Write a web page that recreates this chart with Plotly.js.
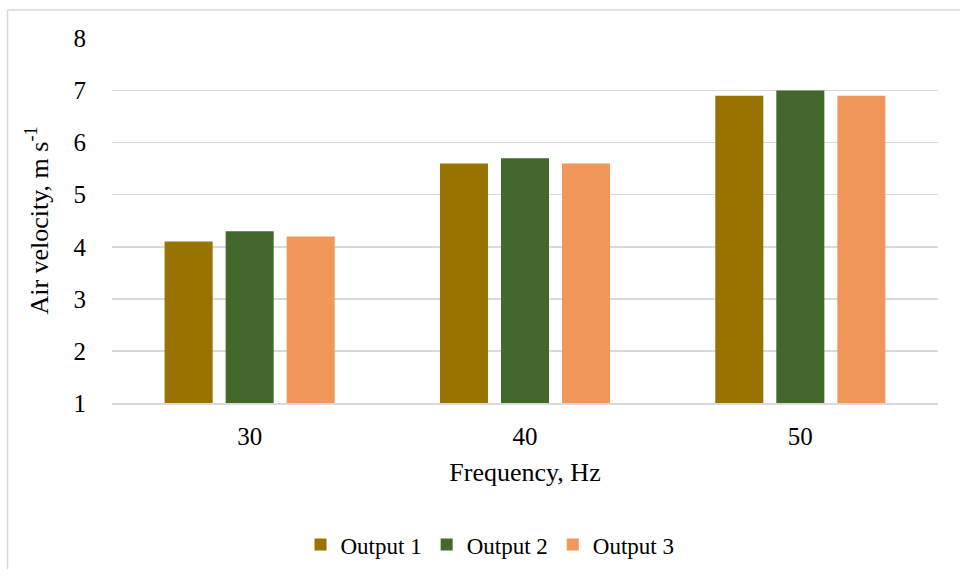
<!DOCTYPE html>
<html>
<head>
<meta charset="utf-8">
<script src="https://cdn.plot.ly/plotly-3.0.1.min.js"></script>
<style>
  html, body { margin: 0; padding: 0; background: #fff; }
  #chart { width: 960px; height: 578px; }
</style>
</head>
<body>
<div id="chart"></div>
<script>
const categories = ["30", "40", "50"];
const output1 = [4.1, 5.6, 6.9];
const output2 = [4.3, 5.7, 7.0];
const output3 = [4.2, 5.6, 6.9];
const seriesNames = ["Output 1", "Output 2", "Output 3"];
const seriesColors = ["#997300", "#43682B", "#F1975A"];
const yTicks = [1, 2, 3, 4, 5, 6, 7, 8];

const FONT = 'Liberation Serif';
const allSeries = [output1, output2, output3];

const traces = allSeries.map((vals, i) => ({
  type: 'bar',
  name: seriesNames[i],
  x: categories,
  y: vals,
  marker: { color: seriesColors[i], line: { width: 0 } },
  hoverinfo: 'x+y+name'
}));

const W = 960, H = 578;
const L = 112, R = 22, T = 38, B = 169;
const pw = W - L - R, ph = H - T - B;
const px = v => (v - L) / pw;
const py = v => (H - B - v) / ph;

const layout = {
  width: W, height: H,
  margin: { l: L, r: R, t: T, b: B, pad: 0 },
  paper_bgcolor: '#ffffff',
  plot_bgcolor: '#ffffff',
  font: { family: FONT, color: '#000000', size: 25 },
  barmode: 'group',
  bargap: 0.335,
  bargroupgap: 0.213,
  showlegend: true,
  legend: {
    orientation: 'h',
    x: px(525 - 35), xanchor: 'center',
    y: py(553), yanchor: 'middle',
    font: { family: FONT, size: 23, color: '#000' },
    traceorder: 'normal'
  },
  xaxis: {
    type: 'category',
    showgrid: false,
    showline: true,
    linecolor: '#D9D9D9',
    linewidth: 1.5,
    ticks: 'outside', ticklen: 10, tickcolor: 'rgba(0,0,0,0)',
    tickfont: { family: FONT, size: 25 },
    title: { text: 'Frequency, Hz', font: { family: FONT, size: 26 }, standoff: 14 },
    automargin: false
  },
  yaxis: {
    range: [1, 8.01],
    tickvals: yTicks,
    ticktext: yTicks.map(String),
    showgrid: true,
    gridcolor: '#D9D9D9',
    gridwidth: 1.5,
    zeroline: false,
    showline: false,
    ticks: 'outside', ticklen: 20, tickcolor: 'rgba(0,0,0,0)',
    tickfont: { family: FONT, size: 25 },
    title: { text: 'Air velocity, m s<sup>-1</sup>', font: { family: FONT, size: 26 }, standoff: 17 },
    automargin: false
  },
  shapes: [
    { type: 'line', xref: 'paper', yref: 'paper', x0: px(7.5), x1: px(960), y0: py(9.5), y1: py(9.5),
      line: { color: '#D9D9D9', width: 1.5 } },
    { type: 'line', xref: 'paper', yref: 'paper', x0: px(7.5), x1: px(7.5), y0: py(9.5), y1: py(578),
      line: { color: '#D9D9D9', width: 1.5 } }
  ]
};

Plotly.newPlot('chart', traces, layout, { displayModeBar: false, staticPlot: true });
</script>
</body>
</html>
